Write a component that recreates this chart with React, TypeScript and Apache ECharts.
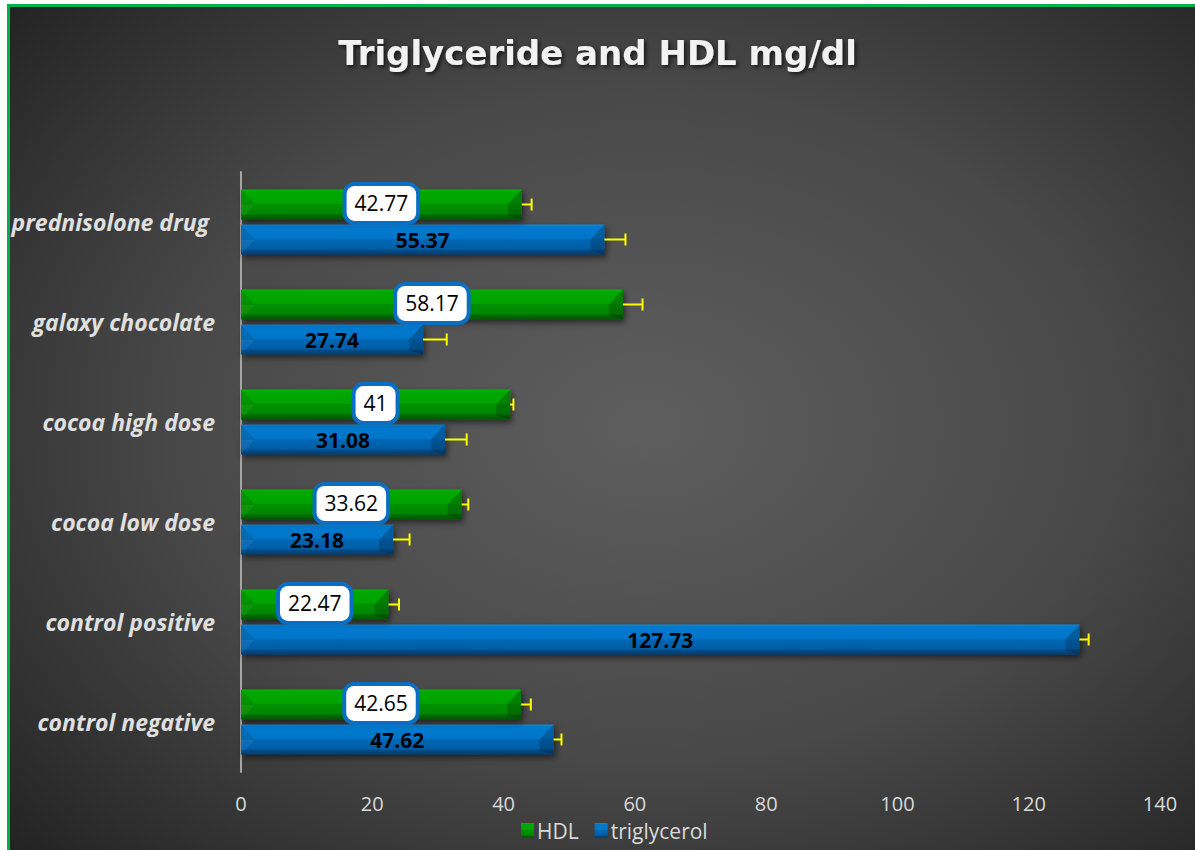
import React, { useEffect, useRef } from "react";
import * as echarts from "echarts";

const categories = [
  "control negative",
  "control positive",
  "cocoa low dose",
  "cocoa high dose",
  "galaxy chocolate",
  "prednisolone drug ",
];
const hdlValues = [42.65, 22.47, 33.62, 41, 58.17, 42.77];
const trigValues = [47.62, 127.73, 23.18, 31.08, 27.74, 55.37];
const hdlErrors = [1.5, 1.6, 1.0, 0.5, 3.0, 1.5];
const trigErrors = [1.2, 1.4, 2.5, 3.3, 3.6, 3.2];
const seriesNames = ["HDL", "triglycerol"];

const FONT = "'Open Sans', 'DejaVu Sans', sans-serif";

const greenGrad = new echarts.graphic.LinearGradient(0, 0, 0, 1, [
  { offset: 0, color: "#00b800" },
  { offset: 0.08, color: "#00a800" },
  { offset: 0.46, color: "#00a300" },
  { offset: 0.5, color: "#009100" },
  { offset: 0.8, color: "#008600" },
  { offset: 0.86, color: "#006c00" },
  { offset: 1, color: "#005800" },
]);
const blueGrad = new echarts.graphic.LinearGradient(0, 0, 0, 1, [
  { offset: 0, color: "#1a88da" },
  { offset: 0.08, color: "#0079cd" },
  { offset: 0.46, color: "#0076ca" },
  { offset: 0.5, color: "#0067b4" },
  { offset: 0.8, color: "#005ea6" },
  { offset: 0.86, color: "#004b88" },
  { offset: 1, color: "#003d72" },
]);

function slotY(api: any, cat: number, slot: number) {
  const band = api.size([0, 1])[1];
  const c = api.coord([0, cat]);
  return c[1] + (slot === 0 ? -0.175 : 0.175) * band;
}

function errorSeries(values: number[], errors: number[], slot: number) {
  return {
    type: "custom",
    z: 4,
    silent: true,
    data: values.map((v, i) => [v, i, errors[i], slot]),
    encode: { x: 0, y: 1 },
    renderItem: (params: any, api: any) => {
      const v = api.value(0);
      const cat = api.value(1);
      const err = api.value(2);
      const s = api.value(3);
      const p0 = api.coord([v, cat]);
      const p1 = api.coord([v + err, cat]);
      const y = slotY(api, cat, s);
      const style = { stroke: "#ffff00", lineWidth: 2 };
      return {
        type: "group",
        children: [
          { type: "line", shape: { x1: p0[0], y1: y, x2: p1[0], y2: y }, style },
          { type: "line", shape: { x1: p1[0], y1: y - 6, x2: p1[0], y2: y + 6 }, style },
        ],
      };
    },
  };
}

function bevelSeries(values: number[], slot: number) {
  return {
    type: "custom",
    z: 3.5,
    silent: true,
    data: values.map((v, i) => [v, i, slot]),
    encode: { x: 0, y: 1 },
    renderItem: (params: any, api: any) => {
      const v = api.value(0);
      const cat = api.value(1);
      const s = api.value(2);
      const band = api.size([0, 1])[1];
      const yM = slotY(api, cat, s);
      const h = band * 0.15;
      const yT = yM - h;
      const yB = yM + h;
      const x0 = api.coord([0, cat])[0];
      const x1 = api.coord([v, cat])[0];
      const d = 14;
      return {
        type: "group",
        children: [
          {
            type: "polygon",
            shape: { points: [[x0, yT], [x0 + d, yM], [x0, yM]] },
            style: { fill: "rgba(0,0,0,0.10)" },
          },
          {
            type: "polygon",
            shape: { points: [[x0, yM], [x0 + d, yM], [x0, yB]] },
            style: { fill: "rgba(255,255,255,0.06)" },
          },
          {
            type: "polygon",
            shape: { points: [[x1, yT], [x1 - d, yM], [x1, yM]] },
            style: { fill: "rgba(0,0,0,0.22)" },
          },
          {
            type: "polygon",
            shape: { points: [[x1, yM], [x1 - d, yM], [x1 - d, yB - 4], [x1, yB]] },
            style: { fill: "rgba(0,0,0,0.18)" },
          },
        ],
      };
    },
  };
}

export default function App() {
  const ref = useRef<HTMLDivElement>(null);
  useEffect(() => {
    if (!ref.current) return;
    const chart = echarts.init(ref.current, null, { renderer: "svg" });
    chart.setOption({
      animation: false,
      backgroundColor: {
        type: "radial",
        x: 0.54,
        y: 0.5,
        r: 0.72,
        colorStops: [
          { offset: 0, color: "#5e5e5e" },
          { offset: 0.55, color: "#484848" },
          { offset: 1, color: "#242424" },
        ],
      },
      title: {
        text: "Triglyceride and HDL mg/dl",
        left: "center",
        top: 31,
        textStyle: {
          fontFamily: "'DejaVu Sans', sans-serif",
          fontSize: 34,
          fontWeight: "bold",
          color: "#f2f2f2",
          textShadowColor: "rgba(0,0,0,0.7)",
          textShadowBlur: 4,
          textShadowOffsetX: 2,
          textShadowOffsetY: 2,
        },
      },
      legend: {
        data: seriesNames,
        left: 516,
        top: 815,
        itemWidth: 13,
        itemHeight: 15,
        itemGap: 16,
        icon: "rect",
        textStyle: { color: "#d9d9d9", fontSize: 21, fontFamily: FONT, padding: [0, 0, 0, -2] },
      },
      grid: { left: 241, top: 172, width: 919, height: 600, containLabel: false },
      xAxis: {
        type: "value",
        min: 0,
        max: 140,
        interval: 20,
        axisLine: { show: false },
        axisTick: { show: false },
        splitLine: { show: false },
        axisLabel: { color: "#d9d9d9", fontSize: 20, fontFamily: FONT, margin: 21 },
      },
      yAxis: {
        type: "category",
        data: categories,
        axisLine: { show: true, lineStyle: { color: "#a6a6a6", width: 2 } },
        axisTick: { show: false },
        axisLabel: {
          color: "#e0e0e0",
          fontSize: 23,
          fontStyle: "italic",
          fontWeight: "bold",
          fontFamily: FONT,
          margin: 26,
        },
      },
      series: [
        {
          name: seriesNames[0],
          type: "bar",
          z: 3,
          data: hdlValues,
          barWidth: 30,
          barGap: "17%",
          itemStyle: {
            color: greenGrad,
            shadowBlur: 6,
            shadowColor: "rgba(0,0,0,0.55)",
            shadowOffsetX: 2,
            shadowOffsetY: 3,
          },
          label: {
            show: true,
            position: "inside",
            color: "#000",
            fontSize: 21,
            fontFamily: FONT,
            backgroundColor: "#ffffff",
            borderColor: "#0a6fc2",
            borderWidth: 4,
            borderRadius: 8,
            padding: [8, 8, 6, 8],
            offset: [0, -1],
          },
        },
        {
          name: seriesNames[1],
          type: "bar",
          z: 2,
          data: trigValues,
          barWidth: 30,
          barGap: "17%",
          itemStyle: {
            color: blueGrad,
            shadowBlur: 6,
            shadowColor: "rgba(0,0,0,0.55)",
            shadowOffsetX: 2,
            shadowOffsetY: 3,
          },
          label: {
            show: true,
            position: "inside",
            color: "#000",
            fontSize: 21,
            fontWeight: "bold",
            fontFamily: FONT,
          },
        },
        bevelSeries(hdlValues, 0),
        bevelSeries(trigValues, 1),
        errorSeries(hdlValues, hdlErrors, 0),
        errorSeries(trigValues, trigErrors, 1),
      ],
    });
    return () => chart.dispose();
  }, []);

  return (
    <div style={{ position: "fixed", left: 0, top: 0, width: 1195, height: 850, background: "#fff", overflow: "hidden" }}>
      <div ref={ref} style={{ position: "absolute", left: 0, top: 0, width: 1195, height: 850 }} />
      <div style={{ position: "absolute", left: 0, top: 0, width: 1195, height: 4, background: "#fff" }} />
      <div style={{ position: "absolute", left: 0, top: 0, width: 7, height: 850, background: "#fff" }} />
      <div style={{ position: "absolute", left: 7, top: 4, width: 1188, height: 3, background: "#00b050" }} />
      <div style={{ position: "absolute", left: 7, top: 4, width: 3, height: 846, background: "#00b050" }} />
    </div>
  );
}
